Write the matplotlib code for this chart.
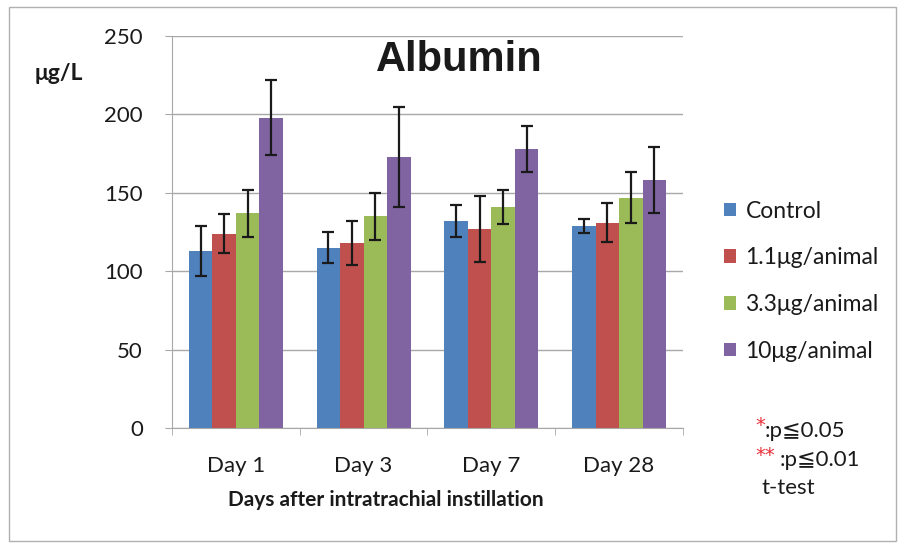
import numpy as np
import matplotlib.pyplot as plt
from matplotlib.patches import Rectangle

plt.rcParams['font.family'] = ['Lato', 'DejaVu Sans']

days = ["Day 1", "Day 3", "Day 7", "Day 28"]
groups = ["Control", "1.1\u03bcg/animal", "3.3\u03bcg/animal", "10\u03bcg/animal"]
control = [113, 115, 132, 129]
low = [124, 118, 127, 131]
mid = [137, 135, 141, 147]
high = [198, 173, 178, 158]
control_err = [16, 10, 10, 4.5]
low_err = [12.5, 14, 21, 12.5]
mid_err = [15, 15, 11, 16.5]
high_err = [24, 32, 14.5, 21]
colors = ["#4F81BD", "#C0504D", "#9BBB59", "#8064A2"]

vals = [control, low, mid, high]
errs = [control_err, low_err, mid_err, high_err]

fig = plt.figure(figsize=(8.99, 5.44), dpi=100)
ax = fig.add_axes([0.1913, 0.2132, 0.5684, 0.7206])

x = np.arange(len(days))
w = 0.184
for i in range(4):
    ax.bar(x + (i - 1.5) * w, vals[i], w, color=colors[i], label=groups[i], zorder=2)
    ax.errorbar(x + (i - 1.5) * w, vals[i], yerr=errs[i], fmt='none', ecolor='#1a1a1a',
                elinewidth=1.6, capsize=4.5, capthick=1.6, zorder=3)

ax.set_xlim(-0.5, 3.5)
ax.set_ylim(0, 250)
ax.set_yticks([0, 50, 100, 150, 200, 250])
ax.yaxis.grid(True, color='#a8a8a8', lw=1)
ax.set_axisbelow(True)
for s in ['top', 'right']:
    ax.spines[s].set_visible(False)
for s in ['left', 'bottom']:
    ax.spines[s].set_color('#a8a8a8')
ax.set_xticks(x)
ax.set_xticklabels(days, fontsize=16, color='#1a1a1a')
ax.set_xticks([-0.5, 0.5, 1.5, 2.5, 3.5], minor=True)
ax.tick_params(axis='x', which='major', length=0, pad=20)
ax.tick_params(axis='x', which='minor', length=5, color='#a8a8a8')
ax.tick_params(axis='y', length=5, color='#a8a8a8', pad=16, labelsize=16, labelcolor='#1a1a1a')

fig.text(459 / 899, 1 - 60 / 544, "Albumin", ha='center', va='center',
         fontsize=30, fontweight='bold', color='#1a1a1a', family=['Liberation Sans', 'DejaVu Sans'])
fig.text(35 / 899, 1 - 73 / 544, "\u03bcg/L", fontsize=16.5, fontweight='bold',
         ha='left', va='center', color='#1a1a1a')
fig.text(386 / 899, 1 - 500 / 544, "Days after intratrachial instillation", fontsize=15,
         fontweight='bold', ha='center', va='center', color='#1a1a1a')

leg = fig.legend(loc='upper left', bbox_to_anchor=(703 / 899, 1 - 180 / 544), frameon=False,
                 fontsize=16.5, handlelength=0.55, handleheight=0.55, handletextpad=0.4,
                 labelspacing=1.12)
for t in leg.get_texts():
    t.set_color('#1a1a1a')

fig.text(755 / 899, 1 - 426 / 544, "*", color='#e8303a', fontsize=14, ha='left', va='center',
         family='DejaVu Sans')
fig.text(765 / 899, 1 - 431 / 544, ":p\u22660.05", fontsize=16, ha='left', va='center', color='#1a1a1a')
fig.text(755 / 899, 1 - 455 / 544, "**", color='#e8303a', fontsize=14, ha='left', va='center',
         family='DejaVu Sans')
fig.text(780 / 899, 1 - 460 / 544, ":p\u22660.01", fontsize=16, ha='left', va='center', color='#1a1a1a')
fig.text(762 / 899, 1 - 488 / 544, "t-test", fontsize=16, ha='left', va='center', color='#1a1a1a')

fig.patches.append(Rectangle((9 / 899, 3 / 544), 887 / 899, 534 / 544, transform=fig.transFigure,
                             fill=False, edgecolor='#b0b0b0', lw=1))

fig.savefig("out.png", dpi=100)
